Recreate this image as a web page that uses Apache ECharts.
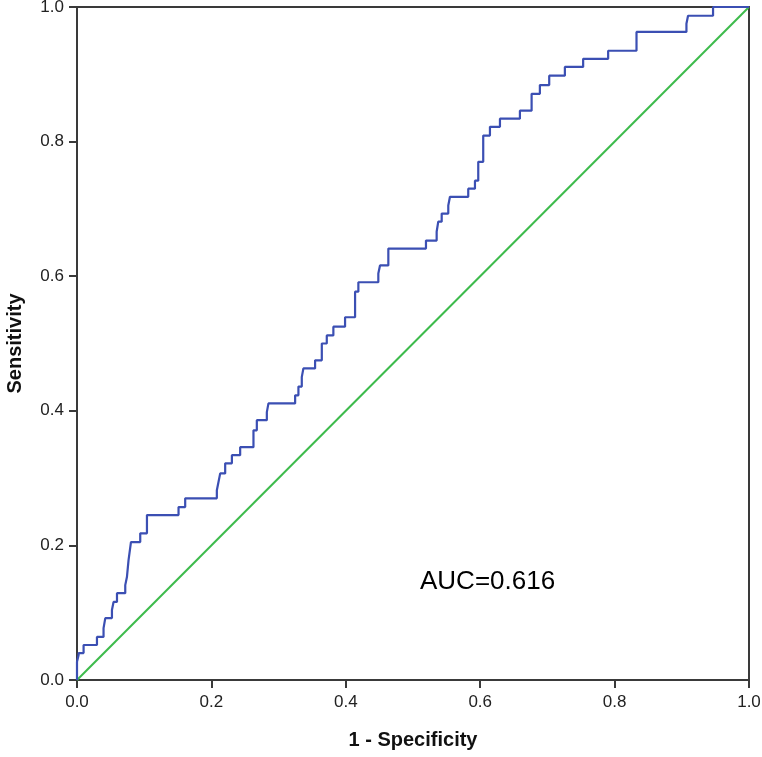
<!DOCTYPE html>
<html>
<head>
<meta charset="utf-8">
<title>ROC curve</title>
<script src="https://cdn.jsdelivr.net/npm/echarts@6/dist/echarts.min.js"></script>
<style>
  html, body { margin: 0; padding: 0; background: #fff; }
  #roc { width: 762px; height: 757px; }
</style>
</head>
<body>
<div id="roc"></div>
<script>
// ROC curve vertices (1 - specificity, sensitivity)
var fpr = [0, 0, 0.0024, 0.0024, 0.0098, 0.0098, 0.0297, 0.0297, 0.0395, 0.0395,
  0.0421, 0.0421, 0.052, 0.052, 0.0544, 0.0544, 0.0595, 0.0595, 0.0718, 0.0718,
  0.0743, 0.0743, 0.0767, 0.0767, 0.0803, 0.0941, 0.0941, 0.1041, 0.1041, 0.1511,
  0.1511, 0.161, 0.161, 0.2081, 0.2081, 0.2105, 0.2131, 0.2205, 0.2205, 0.2305,
  0.2305, 0.2428, 0.2428, 0.2626, 0.2626, 0.2676, 0.2676, 0.2825, 0.2825, 0.2849,
  0.2849, 0.3246, 0.3246, 0.3295, 0.3295, 0.3345, 0.3345, 0.3369, 0.3369, 0.3543,
  0.3543, 0.3643, 0.3643, 0.3717, 0.3717, 0.3815, 0.3815, 0.3989, 0.3989, 0.4138,
  0.4138, 0.4187, 0.4187, 0.4484, 0.4484, 0.4509, 0.4509, 0.4633, 0.4633, 0.5193,
  0.5193, 0.5352, 0.5352, 0.5376, 0.5376, 0.5427, 0.5427, 0.5525, 0.5525, 0.555,
  0.555, 0.5822, 0.5822, 0.5922, 0.5922, 0.5971, 0.5971, 0.6045, 0.6045, 0.6145,
  0.6145, 0.6294, 0.6294, 0.6591, 0.6591, 0.6765, 0.6765, 0.6888, 0.6888, 0.7027,
  0.7027, 0.726, 0.726, 0.7532, 0.7532, 0.7904, 0.7904, 0.8326, 0.8326, 0.9069,
  0.9069, 0.9093, 0.9465, 0.9465, 1];
var tpr = [0, 0.027, 0.037, 0.040, 0.040, 0.052, 0.052, 0.064, 0.064, 0.077,
  0.077, 0.092, 0.092, 0.104, 0.104, 0.116, 0.116, 0.129, 0.129, 0.141,
  0.141, 0.153, 0.153, 0.178, 0.205, 0.205, 0.218, 0.218, 0.245, 0.245,
  0.257, 0.257, 0.270, 0.270, 0.282, 0.282, 0.307, 0.307, 0.322, 0.322,
  0.334, 0.334, 0.346, 0.346, 0.371, 0.371, 0.386, 0.386, 0.398, 0.398,
  0.411, 0.411, 0.423, 0.423, 0.436, 0.436, 0.450, 0.450, 0.463, 0.463,
  0.475, 0.475, 0.500, 0.500, 0.512, 0.512, 0.525, 0.525, 0.539, 0.539,
  0.577, 0.577, 0.591, 0.591, 0.604, 0.604, 0.616, 0.616, 0.641, 0.641,
  0.653, 0.653, 0.666, 0.666, 0.681, 0.681, 0.693, 0.693, 0.705, 0.705,
  0.718, 0.718, 0.730, 0.730, 0.742, 0.742, 0.770, 0.770, 0.809, 0.809,
  0.822, 0.822, 0.834, 0.834, 0.846, 0.846, 0.871, 0.871, 0.884, 0.884,
  0.898, 0.898, 0.911, 0.911, 0.923, 0.923, 0.935, 0.935, 0.963, 0.963,
  0.975, 0.987, 0.987, 1, 1];

// reference line
var diagX = [0, 1];
var diagY = [0, 1];

var tickLabels = ["0.0", "0.2", "0.4", "0.6", "0.8", "1.0"];
var aucLabel = "AUC=0.616";

function pairs(xs, ys) {
  var out = [];
  for (var i = 0; i < xs.length; i++) out.push([xs[i], ys[i]]);
  return out;
}

var axisColor = "#3a3a3a";
var font = "Liberation Sans, Arial, sans-serif";
var labelStyle = {
  color: "#222",
  fontSize: 17,
  fontFamily: font,
  formatter: function (v) {
    return tickLabels[Math.round(v * 5)];
  }
};

var chart = echarts.init(document.getElementById("roc"));
chart.setOption({
  animation: false,
  backgroundColor: "#fff",
  grid: { left: 77, right: 13, top: 7, bottom: 77, outerBoundsMode: "none", containLabel: false },
  xAxis: [
    {
      type: "value",
      min: 0,
      max: 1,
      interval: 0.2,
      name: "1 - Specificity",
      nameLocation: "middle",
      nameGap: 50,
      nameTextStyle: { color: "#111", fontSize: 20, fontWeight: "bold", fontFamily: font },
      axisLine: { show: true, lineStyle: { color: axisColor, width: 2 } },
      axisTick: { show: true, length: 8, lineStyle: { color: axisColor, width: 2 } },
      axisLabel: Object.assign({ margin: 14 }, labelStyle),
      splitLine: { show: false }
    },
    {
      type: "value",
      position: "top",
      min: 0,
      max: 1,
      axisLine: { show: true, onZero: false, lineStyle: { color: axisColor, width: 2 } },
      axisTick: { show: false },
      axisLabel: { show: false },
      splitLine: { show: false }
    }
  ],
  yAxis: [
    {
      type: "value",
      min: 0,
      max: 1,
      interval: 0.2,
      name: "Sensitivity",
      nameLocation: "middle",
      nameGap: 52,
      nameTextStyle: { color: "#111", fontSize: 20, fontWeight: "bold", fontFamily: font },
      axisLine: { show: true, lineStyle: { color: axisColor, width: 2 } },
      axisTick: { show: true, length: 8, lineStyle: { color: axisColor, width: 2 } },
      axisLabel: Object.assign({ margin: 13 }, labelStyle),
      splitLine: { show: false }
    },
    {
      type: "value",
      position: "right",
      min: 0,
      max: 1,
      axisLine: { show: true, onZero: false, lineStyle: { color: axisColor, width: 2 } },
      axisTick: { show: false },
      axisLabel: { show: false },
      splitLine: { show: false }
    }
  ],
  series: [
    {
      type: "line",
      data: pairs(diagX, diagY),
      symbol: "none",
      clip: false,
      lineStyle: { color: "#3dbb4c", width: 2 },
      z: 3
    },
    {
      type: "line",
      data: pairs(fpr, tpr),
      symbol: "none",
      clip: false,
      lineStyle: { color: "#3b4fb3", width: 2.2 },
      z: 4
    }
  ],
  graphic: [
    {
      type: "text",
      left: 420,
      top: 569,
      style: { text: aucLabel, fill: "#000", fontSize: 26, fontFamily: font }
    }
  ]
});
</script>
</body>
</html>
